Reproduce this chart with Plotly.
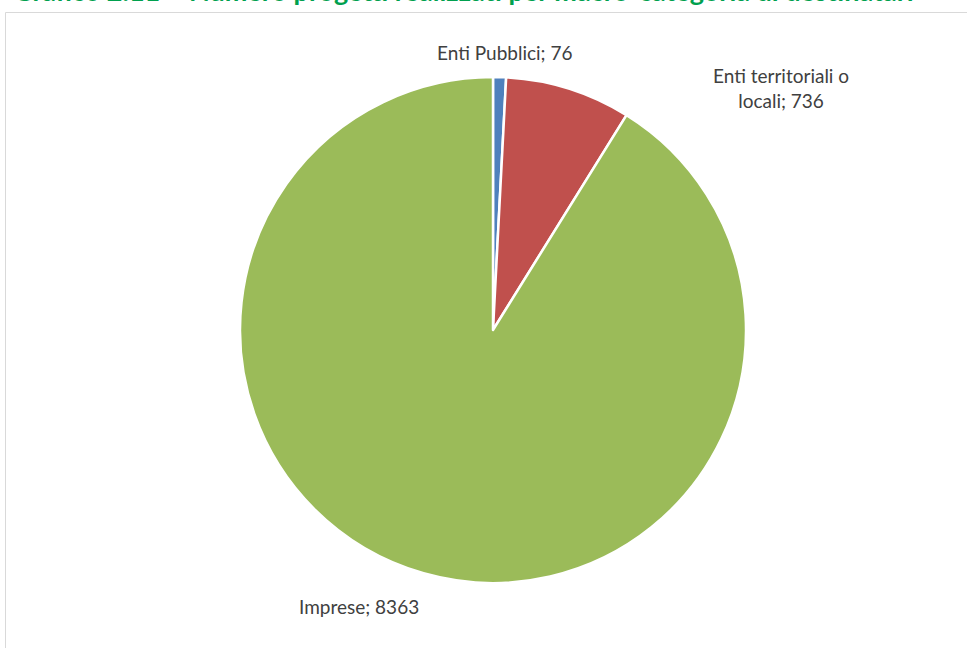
import plotly.graph_objects as go

categories = ["Enti Pubblici", "Enti territoriali o locali", "Imprese"]
values = [76, 736, 8363]
colors = ["#4f81bd", "#c0504d", "#9bbb59"]
title_text = "Grafico 2.11 – Numero progetti realizzati per macro-categoria di destinatari"

W, H = 967, 648
cx, cy, r = 493, 330, 253

fig = go.Figure(go.Pie(
    labels=categories,
    values=values,
    sort=False,
    direction="clockwise",
    rotation=0,
    marker=dict(colors=colors, line=dict(color="white", width=2.5)),
    textinfo="none",
    hoverinfo="label+value",
    showlegend=False,
    domain=dict(x=[(cx - r) / W, (cx + r) / W], y=[(H - cy - r) / H, (H - cy + r) / H]),
))

# data labels (text built from data)
label_pos = [(505, 52), (781, 88), (359, 606)]
label_texts = [
    f"{categories[0]}; {values[0]}",
    "Enti territoriali o<br>locali; " + str(values[1]),
    f"{categories[2]}; {values[2]}",
]
annotations = []
for (px, py), t in zip(label_pos, label_texts):
    annotations.append(dict(
        x=px / W, y=1 - py / H, xref="paper", yref="paper",
        text=t, showarrow=False, xanchor="center", yanchor="middle",
        font=dict(family="Lato, sans-serif", size=19, color="#404040"),
    ))

annotations.append(dict(
    x=11 / W, y=1 - 9 / H, xref="paper", yref="paper",
    text="<b>" + title_text + "</b>", showarrow=False, xanchor="left", yanchor="bottom",
    font=dict(family="Lato, sans-serif", size=27, color="#00a04e"),
))

fig.update_layout(
    width=W, height=H,
    margin=dict(l=0, r=0, t=0, b=0),
    paper_bgcolor="white",
    plot_bgcolor="white",
    annotations=annotations,
    shapes=[dict(
        type="rect", xref="paper", yref="paper",
        x0=5.5 / W, x1=1.01, y0=-0.01, y1=1 - 12.5 / H,
        line=dict(color="#d9d9d9", width=1), fillcolor="rgba(0,0,0,0)", layer="below",
    )],
)

fig.write_html("out.html", config={"displayModeBar": False},
               post_script="document.body.style.margin='0';")
